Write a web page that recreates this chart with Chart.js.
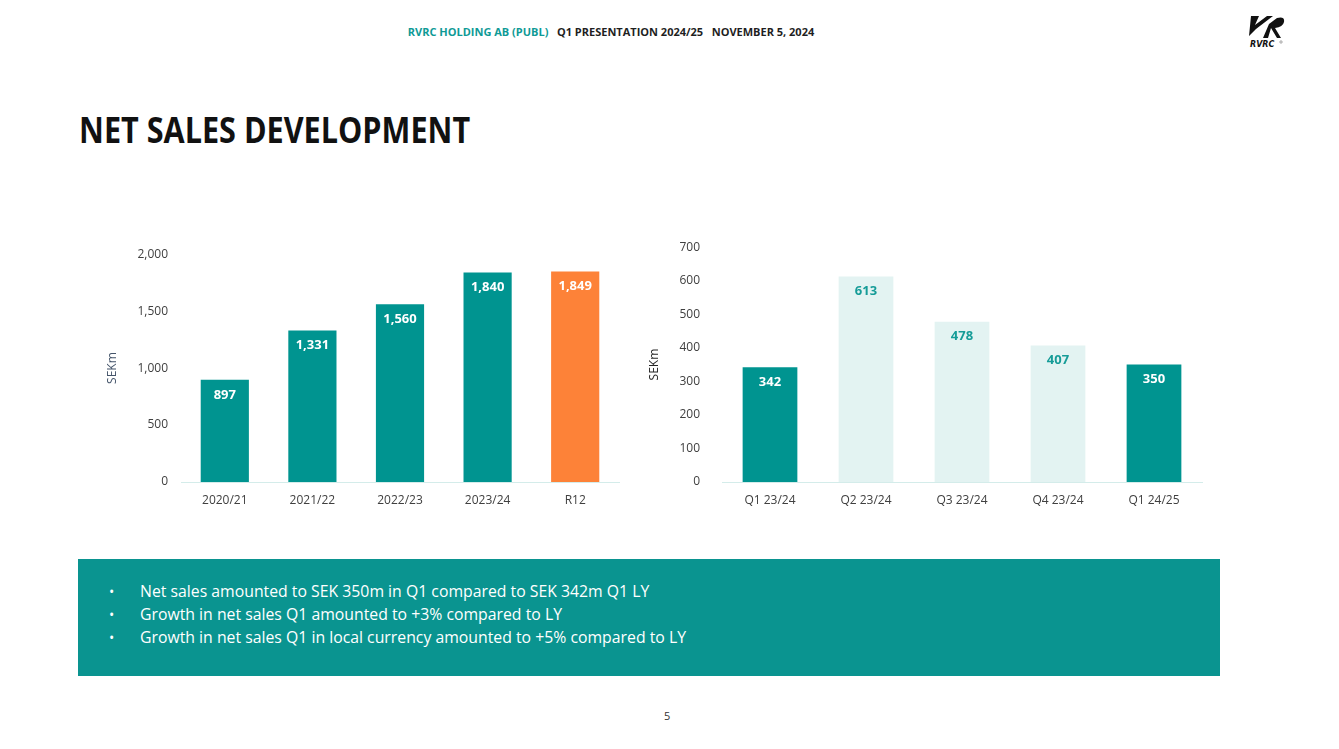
<!DOCTYPE html>
<html>
<head>
<meta charset="utf-8">
<script src="https://cdn.jsdelivr.net/npm/chart.js@4.4.1/dist/chart.umd.min.js"></script>
<style>
  html, body { margin: 0; padding: 0; background: #fff; }
  body { width: 1339px; height: 749px; position: relative; overflow: hidden; font-family: 'Open Sans', sans-serif; }
  .hdr { position: absolute; top: 24px; left: 0; width: 1222px; text-align: center; font-size: 11px; font-weight: 700; color: #1f1f1f; white-space: pre; }
  .hdr span { color: #0f9a96; }
  .title { position: absolute; left: 79px; top: 105px; font-size: 36px; font-weight: 700; color: #111; transform: scaleX(0.85); transform-origin: 0 0; white-space: nowrap; }
  canvas { position: absolute; }
  #c1 { left: 100px; top: 234px; }
  #c2 { left: 640px; top: 218px; }
  .box { position: absolute; left: 78px; top: 559px; width: 1142px; height: 117px; background: #0a9490; }
  .box ul { margin: 0; padding: 0; list-style: none; position: absolute; left: 31px; top: 21px; color: #fff; font-size: 15.8px; line-height: 23px; }
  .box li { position: relative; padding-left: 31px; }
  .box li::before { content: '\2022'; position: absolute; left: 0; font-size: 14px; }
  .pg { position: absolute; left: 664px; top: 708px; font-size: 11px; color: #333; }
  .logo { position: absolute; left: 1245px; top: 14px; }
</style>
</head>
<body>
<div class="hdr"><span>RVRC HOLDING AB (PUBL)</span>   Q1 PRESENTATION 2024/25   NOVEMBER 5, 2024</div>
<div class="title">NET SALES DEVELOPMENT</div>
<svg class="logo" width="60" height="36" viewBox="0 0 60 36">
  <path d="M6 2 L14 2 L10 11 L22 2 L28 2 L11 15 L4 22 Z" fill="#111"/>
  <path d="M18 24 L24 10 L32 4 Q40 2 39 8 Q38 13 30 14 L36 24 L32 24 L26 14 L23 24 Z" fill="#111"/>
  <text x="5" y="33" font-family="DejaVu Sans" font-weight="700" font-style="italic" font-size="8" fill="#111">RVRC</text>
  <circle cx="36" cy="28" r="1.2" fill="none" stroke="#555" stroke-width="0.5"/>
</svg>
<canvas id="c1" width="525" height="286"></canvas>
<canvas id="c2" width="568" height="302"></canvas>
<div class="box">
  <ul>
    <li>Net sales amounted to SEK 350m in Q1 compared to SEK 342m Q1 LY</li>
    <li>Growth in net sales Q1 amounted to +3% compared to LY</li>
    <li>Growth in net sales Q1 in local currency amounted to +5% compared to LY</li>
  </ul>
</div>
<div class="pg">5</div>
<script>
// values
const fyLabels = ['2020/21', '2021/22', '2022/23', '2023/24', 'R12'];
const fySales = [897, 1331, 1560, 1840, 1849];
const qLabels = ['Q1 23/24', 'Q2 23/24', 'Q3 23/24', 'Q4 23/24', 'Q1 24/25'];
const qSales = [342, 613, 478, 407, 350];

const TEAL = '#009490';
const ORANGE = '#fd8238';
const PALE = '#e3f3f2';
const TEXT = '#404040';
const FONT = "'Open Sans', sans-serif";

const fyColors = fySales.map((v, i) => i === fySales.length - 1 ? ORANGE : TEAL);
const qColors = qSales.map((v, i) => (i === 0 || i === qSales.length - 1) ? TEAL : PALE);

// value labels just under the top of each bar
const barLabels = {
  id: 'barLabels',
  afterDatasetsDraw(chart, args, opts) {
    const ctx = chart.ctx;
    const ds = chart.data.datasets[0];
    chart.getDatasetMeta(0).data.forEach((bar, i) => {
      ctx.save();
      ctx.font = `700 13px ${FONT}`;
      ctx.fillStyle = opts.colors[i];
      ctx.textAlign = 'center';
      ctx.textBaseline = 'middle';
      ctx.fillText(ds.data[i].toLocaleString('en-US'), bar.x, bar.y + 15);
      ctx.restore();
    });
  }
};

// note: the y tick padding also pads the top of the chart area
function opts(max, step, yW, tickPad, titleColor, titlePad, labelColors) {
  return {
    responsive: false,
    animation: false,
    layout: {padding: {top: 10, right: 6, left: 0, bottom: 0}},
    plugins: {
      legend: {display: false},
      tooltip: {enabled: false},
      barLabels: {colors: labelColors}
    },
    scales: {
      x: {
        grid: {display: false, drawTicks: false},
        border: {display: true, color: '#d4ecea', width: 1},
        ticks: {color: TEXT, font: {family: FONT, size: 12}, padding: 11},
        afterFit: s => { s.height = 38; }
      },
      y: {
        min: 0, max: max,
        grid: {display: false, drawTicks: false},
        border: {display: false},
        ticks: {
          stepSize: step, color: TEXT, font: {family: FONT, size: 12}, padding: tickPad,
          callback: v => v.toLocaleString('en-US')
        },
        title: {display: true, text: 'SEKm', color: titleColor, font: {family: FONT, size: 12}, padding: {top: titlePad, bottom: 0}},
        afterFit: s => { s.width = yW; }
      }
    }
  };
}

new Chart(document.getElementById('c1'), {
  type: 'bar',
  data: {
    labels: fyLabels,
    datasets: [{data: fySales, backgroundColor: fyColors, categoryPercentage: 1, barPercentage: 0.55}]
  },
  options: opts(2000, 500, 81, 13, '#44546a', 5, fySales.map((v) => '#ffffff')),
  plugins: [barLabels]
});

new Chart(document.getElementById('c2'), {
  type: 'bar',
  data: {
    labels: qLabels,
    datasets: [{data: qSales, backgroundColor: qColors, categoryPercentage: 1, barPercentage: 0.57}]
  },
  options: opts(700, 100, 82, 22, '#262626', 7, qColors.map(c => c === TEAL ? '#ffffff' : '#169c98')),
  plugins: [barLabels]
});
</script>
</body>
</html>
